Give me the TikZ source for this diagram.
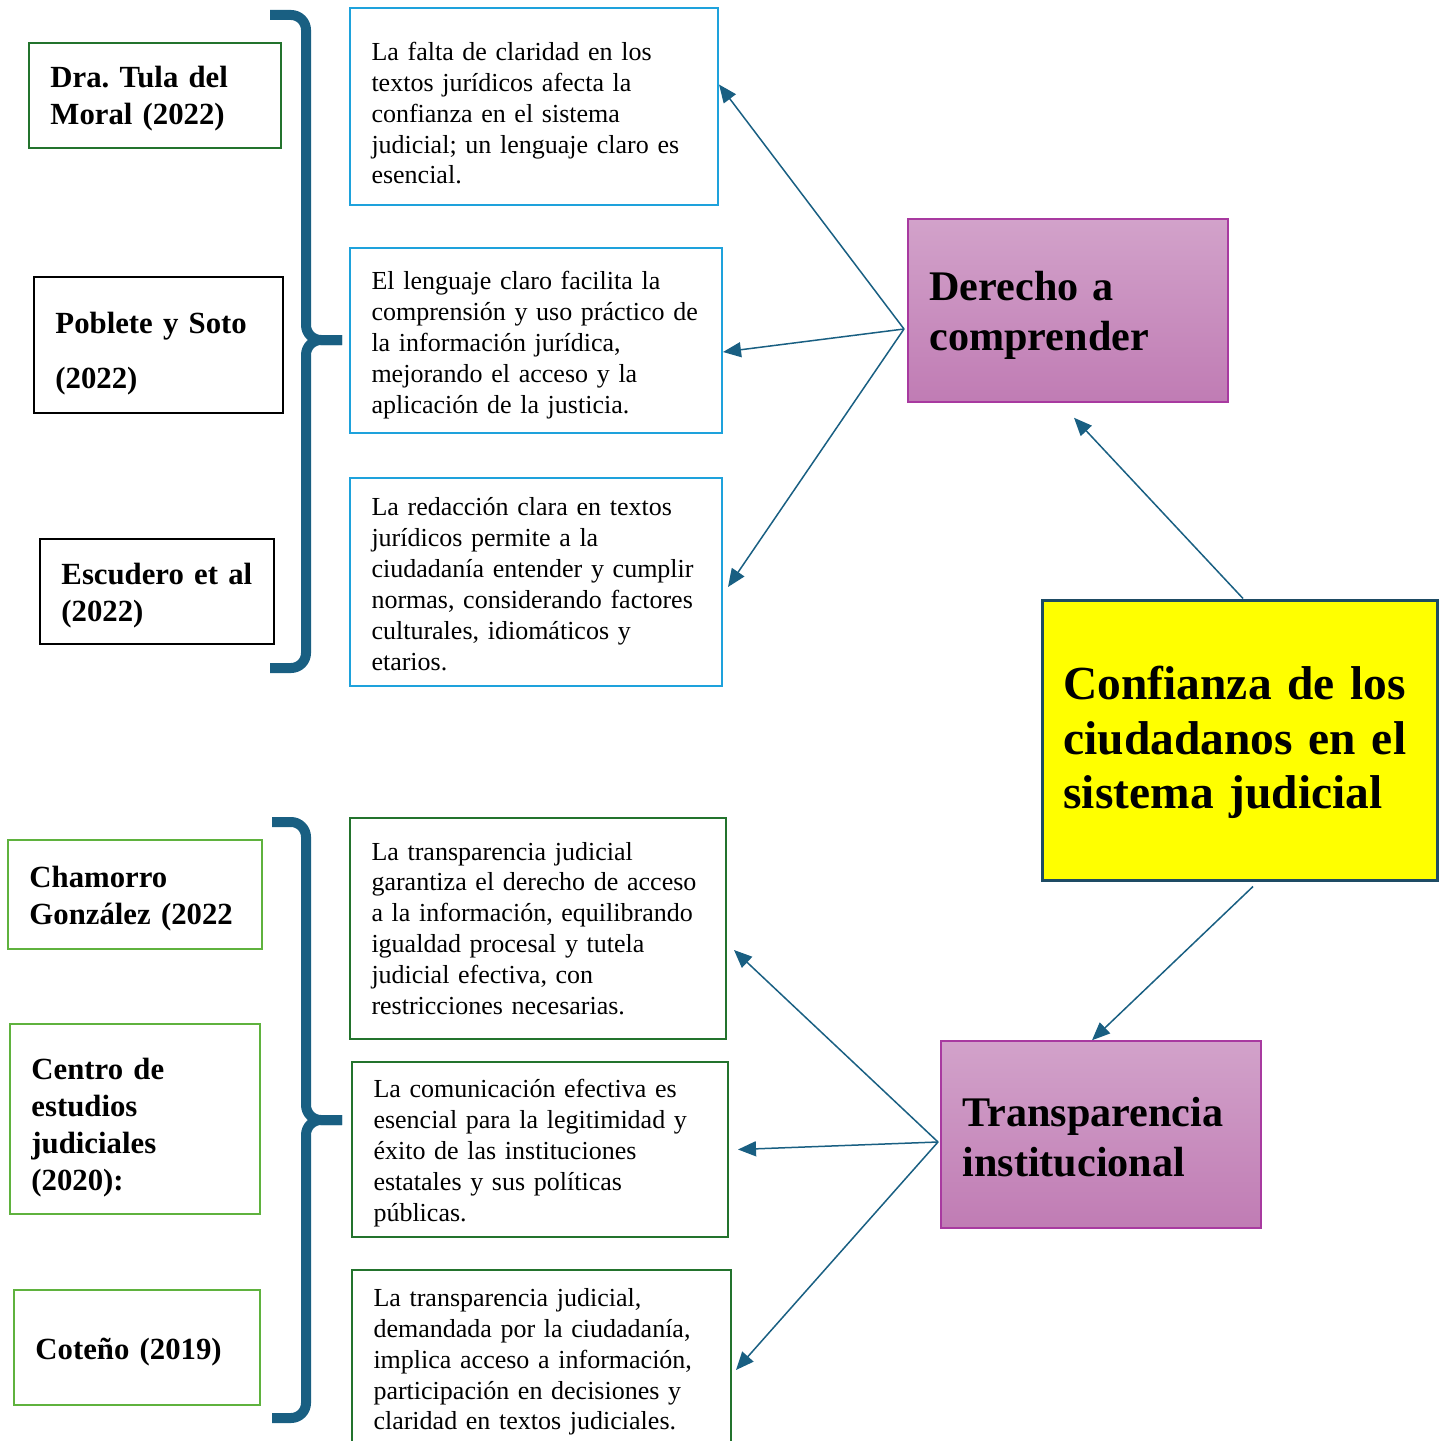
\documentclass[tikz,border=0pt]{standalone}
\usepackage{fontspec}
\setmainfont{Liberation Serif}
\usepackage{xcolor}
\usetikzlibrary{arrows.meta, positioning}
\frenchspacing

\definecolor{arrowblue}{RGB}{25,95,130}
\definecolor{cyanline}{RGB}{30,162,220}
\definecolor{darkgreen}{RGB}{35,115,45}
\definecolor{lightgreen}{RGB}{95,178,62}
\definecolor{pinktop}{RGB}{210,162,202}
\definecolor{pinkbot}{RGB}{192,124,180}
\definecolor{pinkline}{RGB}{168,58,160}
\definecolor{confline}{RGB}{30,75,100}
\definecolor{confyellow}{RGB}{255,255,0}

\begin{document}
\begin{tikzpicture}[
            x=0.2mm, y=-0.2mm,
            toppad/.style={text height=#1},
            author/.style={draw, line width=0.4mm, inner xsep=4.3mm, inner ysep=0pt, align=left,
                           font=\fontsize{17.5}{21}\selectfont\bfseries},
            idea/.style={draw, line width=0.4mm, inner xsep=4.3mm, inner ysep=0pt, align=left,
                         font=\fontsize{14.8}{17.6}\selectfont},
            theme/.style={draw=pinkline, line width=0.3mm, top color=pinktop, bottom color=pinkbot,
                          inner xsep=4.3mm, inner ysep=0pt, align=left,
                          font=\fontsize{24}{28.5}\selectfont\bfseries},
            brace/.style={draw=arrowblue, line width=2mm, rounded corners=3mm},
            arr/.style={draw=arrowblue, line width=0.3mm, -{Triangle[length=3.6mm, width=3mm]}}
        ]
        \clip (0,0) rectangle (1445,1441);

        % Authors (left column)
        \node[author, draw=darkgreen, text width=41.8mm, minimum height=21mm, toppad=15.2pt] (tula) at (155,95.5)
            {Dra. Tula del\\Moral (2022)};
        \node[author, draw=black, text width=41.2mm, minimum height=27.2mm, toppad=22pt,
              font=\fontsize{17.5}{31}\selectfont\bfseries] (poblete) at (158.5,345)
            {Poblete y Soto\\(2022)};
        \node[author, draw=black, text width=38.2mm, minimum height=21mm, toppad=16.3pt] (escudero) at (157,591.5)
            {Escudero et al\\(2022)};

        \node[author, draw=lightgreen, text width=42.2mm, minimum height=21.8mm, toppad=16.3pt] (chamorro) at (135,894.5)
            {Chamorro\\González (2022};
        \node[author, draw=lightgreen, text width=41.4mm, minimum height=38mm, toppad=22pt] (centro) at (135,1119)
            {Centro de\\estudios\\judiciales\\(2020):};
        \node[author, draw=lightgreen, text width=40.6mm, minimum height=23mm, toppad=17.8pt] (coteno) at (137,1347.5)
            {Coteño (2019)};

        % Braces
        \draw[brace] (270,15) -- (306,15) -- (306,340) -- (342,340);
        \draw[brace] (342,340) -- (306,340) -- (306,668) -- (270,668);
        \draw[brace] (272,822) -- (306,822) -- (306,1120) -- (342,1120);
        \draw[brace] (342,1120) -- (306,1120) -- (306,1418) -- (272,1418);

        % Ideas (middle column)
        \node[idea, draw=cyanline, text width=65mm, minimum height=39.4mm, toppad=18pt] (b1) at (534,106.5)
            {La falta de claridad en los\\textos jurídicos afecta la\\confianza en el sistema\\judicial; un lenguaje claro es\\esencial.};
        \node[idea, draw=cyanline, text width=65.8mm, minimum height=37mm, toppad=15.8pt] (b2) at (536,340.5)
            {El lenguaje claro facilita la\\comprensión y uso práctico de\\la información jurídica,\\mejorando el acceso y la\\aplicación de la justicia.};
        \node[idea, draw=cyanline, text width=65.8mm, minimum height=41.6mm, toppad=12.4pt] (b3) at (536,582)
            {La redacción clara en textos\\jurídicos permite a la\\ciudadanía entender y cumplir\\normas, considerando factores\\culturales, idiomáticos y\\etarios.};

        \node[idea, draw=darkgreen, text width=66.6mm, minimum height=44.2mm] (c1) at (538,928.5)
            {La transparencia judicial\\garantiza el derecho de acceso\\a la información, equilibrando\\igualdad procesal y tutela\\judicial efectiva, con\\restricciones necesarias.};
        \node[idea, draw=darkgreen, text width=66.6mm, minimum height=35mm, toppad=14.6pt] (c2) at (540,1149.5)
            {La comunicación efectiva es\\esencial para la legitimidad y\\éxito de las instituciones\\estatales y sus políticas\\públicas.};
        \node[idea, draw=darkgreen, text width=67.2mm, minimum height=35.6mm, toppad=13.5pt] (c3) at (541.5,1359)
            {La transparencia judicial,\\demandada por la ciudadanía,\\implica acceso a información,\\participación en decisiones y\\claridad en textos judiciales.};

        % Themes (right column)
        \node[theme, text width=55.4mm, minimum height=36.6mm, toppad=21.9pt] (derecho) at (1068,310.5)
            {Derecho a\\comprender};
        \node[theme, text width=55.4mm, minimum height=37.4mm, toppad=19.6pt] (transp) at (1101,1134.5)
            {Transparencia\\institucional};
        \node[draw=confline, line width=0.6mm, fill=confyellow, inner xsep=4.3mm, inner ysep=0pt,
              align=left, text width=70.4mm, minimum height=56mm, toppad=22.1pt,
              font=\fontsize{27}{31}\selectfont\bfseries] (conf) at (1239.5,740)
            {Confianza de los\\ciudadanos en el\\sistema judicial};

        % Connectors
        \coordinate (hubA) at (904,329);
        \coordinate (hubB) at (938,1142);

        \draw[arr] (hubA) -- ([yshift=4.4mm]b1.east);
        \draw[arr] (hubA) -- ([yshift=-2.3mm]b2.east);
        \draw[arr] (hubA) -- ([xshift=1mm, yshift=-1mm]b3.east);

        \draw[arr] (hubB) -- ([xshift=1.4mm, yshift=-4.3mm]c1.east);
        \draw[arr] (hubB) -- ([xshift=1.8mm]c2.east);
        \draw[arr] (hubB) -- ([xshift=0.8mm, yshift=-2.2mm]c3.east);

        \draw[arr] ([xshift=0.7mm]conf.north) -- ([xshift=1.2mm, yshift=-3mm]derecho.south);
        \draw[arr] ([xshift=2.7mm, yshift=-1mm]conf.south) -- ([xshift=-1.8mm]transp.north);

    \end{tikzpicture}
\end{document}
